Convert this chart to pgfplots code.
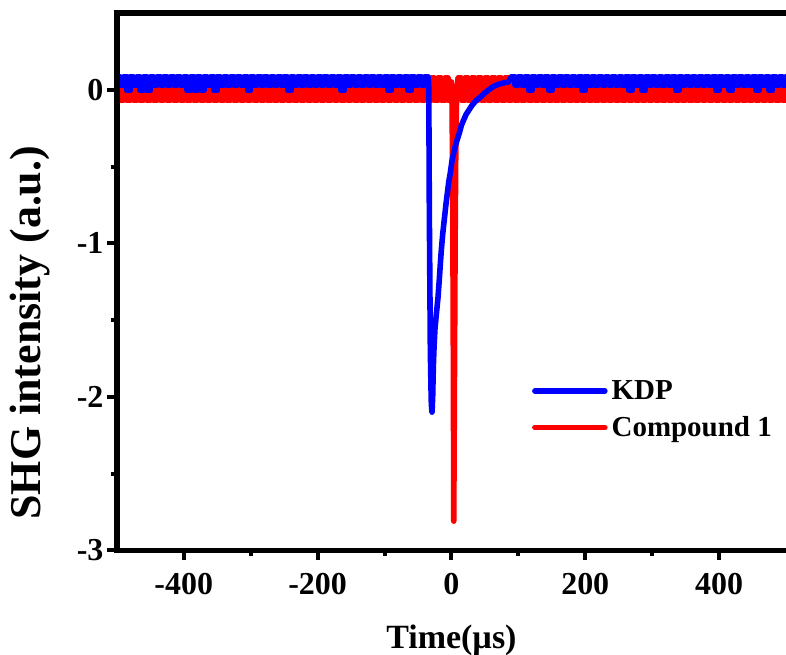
\documentclass[border=0pt]{standalone}
\usepackage{fontspec}
\setmainfont{Liberation Serif}
\usepackage{pgfplots}
\pgfplotsset{compat=1.18}
\definecolor{kdpblue}{RGB}{0,0,255}
\definecolor{cred}{RGB}{255,0,0}
\begin{document}
\begin{tikzpicture}
\begin{axis}[
 name=ax,
 at={(0,0)}, anchor=south west,
 scale only axis, width=335pt, height=269pt,
 xmin=-500, xmax=500, ymin=-3, ymax=0.5,
 axis line style={draw=none},
 xtick={-400,-200,0,200,400}, xticklabels={-400,-200,0,200,400},
 ytick={-3,-2,-1,0}, yticklabels={-3,-2,-1,0},
 minor xtick={-300,-100,100,300},
 minor ytick={-2.5,-1.5,-0.5},
 xtick pos=bottom, ytick pos=left,
 tick align=outside,
 major tick length=4.7pt, minor tick length=2.9pt,
 every tick/.style={black, line width=2pt},
 tick label style={font=\bfseries\fontsize{16}{16}\selectfont},
 xticklabel style={yshift=-3pt},
 yticklabel style={xshift=1.5pt},
 xlabel={Time(µs)}, ylabel={SHG intensity (a.u.)},
 xlabel style={at={(axis description cs:0.5,-0.1675)}, anchor=center, font=\bfseries\fontsize{17}{18}\selectfont},
 ylabel style={at={(axis description cs:-0.13,0.405)}, anchor=center, font=\bfseries\fontsize{22}{22}\selectfont},
 legend style={at={(axis description cs:0.62,0.325)}, anchor=north west, draw=none, fill=none,
   font=\bfseries\fontsize{14.5}{17}\selectfont, row sep=3pt, inner sep=0pt},
 legend cell align=left,
 legend image code/.code={\draw[#1, line width=2.8pt, line cap=round] (0pt,0pt) -- (35pt,0pt);},
 reverse legend,
 clip mode=individual,
 every axis plot/.append style={line width=2.8pt, line join=round, line cap=round},
]
% ---------- Compound 1 (red) ----------
\addplot[cred, const plot] coordinates {
(-500,0.075)(-495,-0.07)(-490,0.075)(-485,-0.07)(-480,0.075)(-475,-0.07)(-470,0.075)(-465,-0.07)(-460,0.075)(-455,-0.07)
(-450,0.075)(-445,-0.07)(-440,0.075)(-435,-0.07)(-430,0.075)(-425,-0.07)(-420,0.075)(-415,-0.07)(-410,0.075)(-405,-0.07)
(-400,0.075)(-395,-0.07)(-390,0.075)(-385,-0.07)(-380,0.075)(-375,-0.07)(-370,0.075)(-365,-0.07)(-360,0.075)(-355,-0.07)
(-350,0.075)(-345,-0.07)(-340,0.075)(-335,-0.07)(-330,0.075)(-325,-0.07)(-320,0.075)(-315,-0.07)(-310,0.075)(-305,-0.07)
(-300,0.075)(-295,-0.07)(-290,0.075)(-285,-0.07)(-280,0.075)(-275,-0.07)(-270,0.075)(-265,-0.07)(-260,0.075)(-255,-0.07)
(-250,0.075)(-245,-0.07)(-240,0.075)(-235,-0.07)(-230,0.075)(-225,-0.07)(-220,0.075)(-215,-0.07)(-210,0.075)(-205,-0.07)
(-200,0.075)(-195,-0.07)(-190,0.075)(-185,-0.07)(-180,0.075)(-175,-0.07)(-170,0.075)(-165,-0.07)(-160,0.075)(-155,-0.07)
(-150,0.075)(-145,-0.07)(-140,0.075)(-135,-0.07)(-130,0.075)(-125,-0.07)(-120,0.075)(-115,-0.07)(-110,0.075)(-105,-0.07)
(-100,0.075)(-95,-0.07)(-90,0.075)(-85,-0.07)(-80,0.075)(-75,-0.07)(-70,0.075)(-65,-0.07)(-60,0.075)(-55,-0.07)
(-50,0.075)(-45,-0.07)(-40,0.075)(-35,-0.07)(-30,0.075)(-25,-0.07)(-20,0.075)(-15,-0.07)(-10,0.075)(-5,-0.07)(0,0.05)
};
\addlegendentry{Compound 1}
\addplot[cred, forget plot] coordinates {
(0,0.05)(1,-0.1)(2,-0.7)(3,-1.9)(3.5,-2.81)(4.5,-1.9)(5.5,-1.0)(6.5,-0.4)(7.5,-0.1)(9,0.03)(10,0.075)
};
\addplot[cred, const plot, forget plot] coordinates {
(10,0.075)(15,-0.07)
(20,0.075)(25,-0.07)(30,0.075)(35,-0.07)(40,0.075)(45,-0.07)(50,0.075)(55,-0.07)(60,0.075)(65,-0.07)
(70,0.075)(75,-0.07)(80,0.075)(85,-0.07)(90,0.075)(95,-0.07)(100,0.075)(105,-0.07)(110,0.075)(115,-0.07)
(120,0.075)(125,-0.07)(130,0.075)(135,-0.07)(140,0.075)(145,-0.07)(150,0.075)(155,-0.07)(160,0.075)(165,-0.07)
(170,0.075)(175,-0.07)(180,0.075)(185,-0.07)(190,0.075)(195,-0.07)(200,0.075)(205,-0.07)(210,0.075)(215,-0.07)
(220,0.075)(225,-0.07)(230,0.075)(235,-0.07)(240,0.075)(245,-0.07)(250,0.075)(255,-0.07)(260,0.075)(265,-0.07)
(270,0.075)(275,-0.07)(280,0.075)(285,-0.07)(290,0.075)(295,-0.07)(300,0.075)(305,-0.07)(310,0.075)(315,-0.07)
(320,0.075)(325,-0.07)(330,0.075)(335,-0.07)(340,0.075)(345,-0.07)(350,0.075)(355,-0.07)(360,0.075)(365,-0.07)
(370,0.075)(375,-0.07)(380,0.075)(385,-0.07)(390,0.075)(395,-0.07)(400,0.075)(405,-0.07)(410,0.075)(415,-0.07)
(420,0.075)(425,-0.07)(430,0.075)(435,-0.07)(440,0.075)(445,-0.07)(450,0.075)(455,-0.07)(460,0.075)(465,-0.07)
(470,0.075)(475,-0.07)(480,0.075)(485,-0.07)(490,0.075)(495,-0.07)(500,0.075)
};
% ---------- KDP (blue) ----------
\addplot[kdpblue, const plot] coordinates {
(-500,0.085)(-495,0.03)(-490,0.085)(-485,-0.005)(-480,0.085)(-475,0.03)(-470,0.085)(-465,-0.005)(-460,0.085)(-455,-0.005)
(-450,0.085)(-445,0.03)(-440,0.085)(-435,0.03)(-430,0.085)(-425,0.03)(-420,0.085)(-415,0.03)(-410,0.085)(-405,0.03)
(-400,0.085)(-395,-0.005)(-390,0.085)(-385,-0.005)(-380,0.085)(-375,-0.005)(-370,0.085)(-365,0.03)(-360,0.085)(-355,-0.005)
(-350,0.085)(-345,0.03)(-340,0.085)(-335,0.03)(-330,0.085)(-325,0.03)(-320,0.085)(-315,0.03)(-310,0.085)(-305,-0.005)
(-300,0.085)(-295,0.03)(-290,0.085)(-285,0.03)(-280,0.085)(-275,0.03)(-270,0.085)(-265,0.03)(-260,0.085)(-255,0.03)
(-250,0.085)(-245,-0.005)(-240,0.085)(-235,0.03)(-230,0.085)(-225,0.03)(-220,0.085)(-215,0.03)(-210,0.085)(-205,0.03)
(-200,0.085)(-195,0.03)(-190,0.085)(-185,0.03)(-180,0.085)(-175,0.03)(-170,0.085)(-165,-0.005)(-160,0.085)(-155,0.03)
(-150,0.085)(-145,0.03)(-140,0.085)(-135,0.03)(-130,0.085)(-125,0.03)(-120,0.085)(-115,0.03)(-110,0.085)(-105,0.03)
(-100,0.085)(-95,-0.005)(-90,0.085)(-85,0.03)(-80,0.085)(-75,0.03)(-70,0.085)(-65,-0.005)(-60,0.085)(-55,0.03)
(-50,0.085)(-45,0.03)(-40,0.085)(-35,0.03)(-34,0.06)
};
\addlegendentry{KDP}
\addplot[kdpblue, forget plot] coordinates {
(-34,0.06)(-33.5,-0.3)(-33,-0.8)(-32.5,-1.1)(-32,-1.4)(-31.5,-1.7)(-30.5,-1.95)(-30,-2.05)(-29,-2.1)(-28,-2.0)(-27,-1.8)(-26,-1.68)(-24.5,-1.55)(-22,-1.44)
(-20,-1.35)(-18,-1.23)(-16.5,-1.13)(-15,-1.04)(-13,-0.94)(-10,-0.82)(-8,-0.74)(-6,-0.67)(-4,-0.6)(-2,-0.55)(1,-0.46)(3,-0.42)(5,-0.38)(7,-0.35)(9,-0.32)(12,-0.28)
(15,-0.23)(18,-0.2)(22,-0.16)(25,-0.14)(28,-0.12)(31,-0.1)(34,-0.085)(37,-0.07)(44,-0.045)(50,-0.02)(56,0.0)(62,0.02)
(70,0.035)(78,0.045)(85,0.05)(90,0.085)
};
\addplot[kdpblue, const plot, forget plot] coordinates {
(90,0.085)(95,0.03)(100,0.085)(105,0.03)(110,0.085)(115,-0.005)(120,0.085)(125,0.03)(130,0.085)(135,0.03)
(140,0.085)(145,-0.005)(150,0.085)(155,0.03)(160,0.085)(165,0.03)(170,0.085)(175,0.03)(180,0.085)(185,0.03)
(190,0.085)(195,-0.005)(200,0.085)(205,0.03)(210,0.085)(215,0.03)(220,0.085)(225,0.03)(230,0.085)(235,0.03)
(240,0.085)(245,0.03)(250,0.085)(255,0.03)(260,0.085)(265,-0.005)(270,0.085)(275,0.03)(280,0.085)(285,-0.005)
(290,0.085)(295,0.03)(300,0.085)(305,0.03)(310,0.085)(315,0.03)(320,0.085)(325,0.03)(330,0.085)(335,-0.005)
(340,0.085)(345,0.03)(350,0.085)(355,0.03)(360,0.085)(365,0.03)(370,0.085)(375,0.03)(380,0.085)(385,0.03)
(390,0.085)(395,-0.005)(400,0.085)(405,0.03)(410,0.085)(415,-0.005)(420,0.085)(425,0.03)(430,0.085)(435,0.03)
(440,0.085)(445,0.03)(450,0.085)(455,-0.005)(460,0.085)(465,0.03)(470,0.085)(475,-0.005)(480,0.085)(485,0.03)
(490,0.085)(495,0.03)(500,0.085)
};
\end{axis}
\draw[line width=2.8pt, line join=miter] ([xshift=10pt]ax.north east) -- (ax.north west) -- (ax.south west) -- ([xshift=10pt]ax.south east);
\pgfresetboundingbox
\useasboundingbox (-58.5pt,-52pt) rectangle (335pt,275.5pt);
\end{tikzpicture}
\end{document}
